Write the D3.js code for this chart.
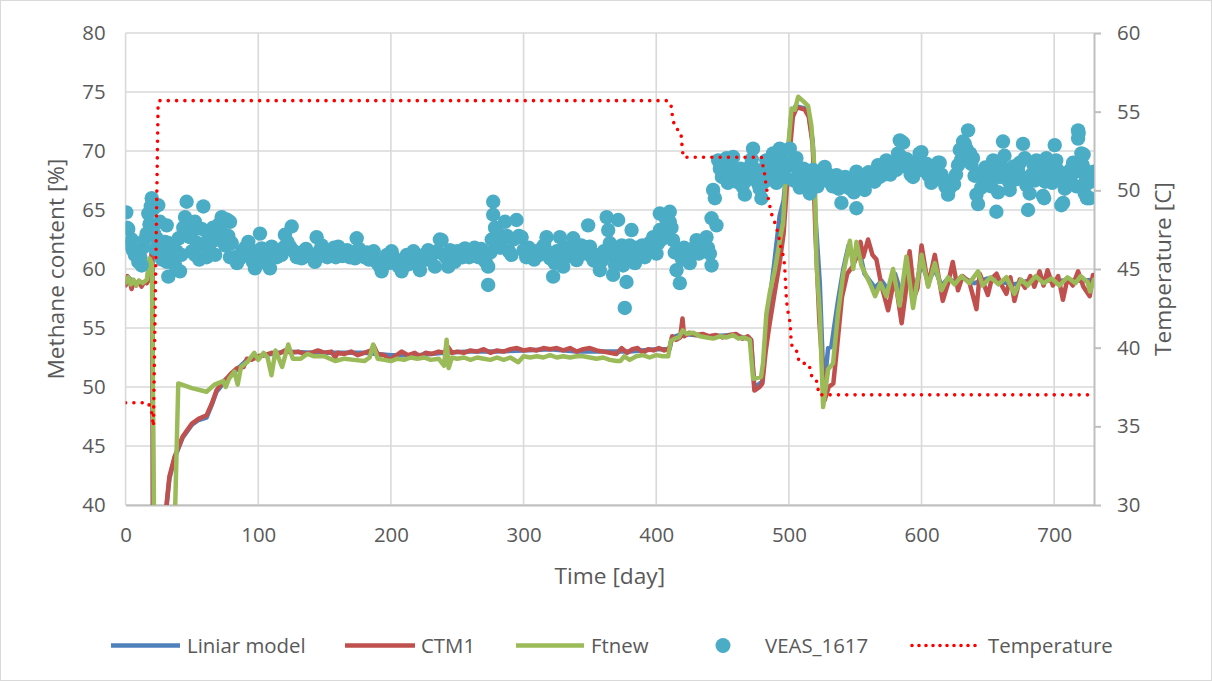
<!DOCTYPE html>
<html>
<head>
<meta charset="utf-8">
<script src="https://cdn.jsdelivr.net/npm/d3@7"></script>
<style>
  body { margin: 0; background: #fff; }
  svg text { font-family: "Open Sans", "Noto Sans", sans-serif; fill: #595959; }
</style>
</head>
<body>
<svg id="chart" width="1212" height="681"></svg>
<script>
// ---- tick values ----
const dayTicks = [0, 100, 200, 300, 400, 500, 600, 700];
const methaneTicks = [40, 45, 50, 55, 60, 65, 70, 75, 80];
const tempTicks = [30, 35, 40, 45, 50, 55, 60];

// ---- model series: [day, methane %] ----
const liniarModel = [
  [0,58.7],[3,59.2],[6,58.8],[10,58.9],[14,58.8],[18,59.1],[20.1,61.8],[20.6,40],[21.5,30],[29,36.3],
  [31,40.0],[33,42.2],[37,44.0],[43,45.7],[50,46.8],[55,47.2],[61,47.4],[65,48.5],[68.5,49.6],[76,50.6],
  [84,51.5],[91.5,52.3],[100,52.6],[120,53.0],[140,52.9],[160,52.9],[180,52.9],[200,52.7],[220,52.7],
  [240,52.9],[260,53.0],[280,53.0],[300,53.1],[320,53.2],[340,53.0],[360,53.0],[380,53.0],[400,53.2],
  [410,53.2],[412,54.2],[420,54.5],[440,54.3],[460,54.4],[471.5,54.0],[474,49.9],[480,50.5],
  [482.5,54.5],[485,57.0],[489,60.5],[493,64.5],[496,65.8],[499,69.5],[502,73.2],[505,73.8],[512,73.6],
  [515,73.0],[518,70.8],[520,64.5],[523.3,58.8],[525.8,51.2],[527.5,51.0],[529.6,53.3],[532,53.4],
  [534,55.0],[537,57.3],[541,60.0],[545,62.0],[549,60.6],[553,61.6],[557,59.6],[561,59.0],[565,58.4],
  [570,59.0],[575,58.2],[580,59.6],[585,57.8],[590,60.3],[595,58.1],[600,60.6],[605,58.9],[610,60.0],
  [615,58.6],[620,59.2],[625,58.9],[630,59.3],[640,58.8],[650,59.2],[660,58.9],[670,58.7],[680,59.0],
  [690,59.2],[700,58.9],[710,59.1],[720,59.0],[730,59.1]
];

const ctm1 = [
  [0,58.6],[1.5,59.4],[3,59.0],[4.5,58.3],[6,58.9],[8,58.6],[10,59.0],[12,58.5],[14,58.9],[16,58.8],
  [18,59.2],[19.5,61.0],[20.1,62.0],[20.6,40.0],[21.5,30.0],[29,36.5],[31,40.2],[33,42.4],[37,44.1],
  [43,45.8],[50,46.9],[55,47.3],[61,47.6],[65,48.6],[68.5,49.7],[72,50.3],[76,50.7],[80,51.2],[84,51.6],
  [89,51.7],[91.5,52.4],[95,52.3],[100,52.6],[105,52.7],[110,52.9],[115,52.8],[120,53.1],[125,52.9],
  [130,53.0],[135,52.8],[140,52.9],[145,53.1],[150,52.9],[155,53.0],[158,52.5],[160,52.9],[165,52.8],
  [170,53.0],[175,52.7],[180,52.9],[185,53.1],[187,53.5],[190,52.8],[195,52.7],[199,52.3],[203,52.6],
  [208,53.0],[213,52.7],[218,52.9],[222,52.6],[226,52.9],[231,52.8],[236,53.0],[240,52.9],[243,53.4],
  [246,52.9],[250,53.0],[255,52.9],[260,53.1],[265,53.0],[270,53.2],[275,52.9],[280,53.1],[285,53.0],
  [290,53.2],[295,53.3],[300,53.1],[305,53.2],[310,53.1],[315,53.3],[320,53.2],[325,53.3],[330,53.1],
  [335,53.3],[340,53.0],[345,53.2],[350,53.3],[355,53.1],[360,53.0],[365,52.9],[370,52.8],[374,53.3],
  [378,52.9],[382,53.2],[386,53.3],[390,52.9],[394,53.2],[398,53.1],[402,53.3],[406,53.1],[410,53.3],
  [412,54.3],[415,54.0],[418,54.2],[419.8,55.8],[421,54.3],[425,54.6],[430,54.4],[435,54.5],[440,54.3],
  [445,54.4],[450,54.2],[455,54.4],[460,54.5],[465,54.1],[469,54.3],[471.5,54.0],[474,49.7],[478,50.0],
  [480,50.3],[482.5,53.0],[485,55.0],[489,57.8],[493,60.5],[496,63.0],[499,67.8],[503,72.9],[506,73.7],
  [512,73.5],[515,72.9],[518,70.5],[520,63.0],[523,55.5],[527,48.9],[530,50.0],[533.5,50.3],[536,53.0],
  [540,57.6],[544,59.6],[548,60.2],[551,61.0],[554,62.3],[556,61.0],[559.7,62.5],[563,61.2],[566,60.8],
  [570,58.5],[574.8,56.5],[579.8,59.35],[585,55.4],[588,58.0],[591,61.5],[594.7,57.7],[597,58.4],
  [600,62.0],[605,58.6],[610,61.2],[616,57.3],[620,58.8],[623.5,60.6],[627.5,58.2],[631,59.4],[636,58.9],
  [641.4,56.6],[643.9,59.6],[647,58.7],[650,57.8],[653,59.2],[656.5,59.6],[660,58.7],[664,57.9],
  [667,59.3],[670,57.3],[674,59.1],[678,58.4],[682,59.4],[685,58.5],[689,59.8],[692,58.6],[695,59.9],
  [699,58.6],[703,59.4],[706.6,57.4],[710,59.2],[714,58.6],[718,59.8],[722,58.5],[726.8,57.7],
  [729.2,59.5],[730,59.2]
];

const ftnew = [
  [0,58.8],[2,59.3],[4,58.7],[6,59.1],[8,58.6],[10,59.0],[13,58.8],[16,59.1],[18,60.9],[19.8,60.5],
  [21,45.0],[22,30.0],[36,30.0],[37.2,39.0],[39.7,50.3],[50,49.9],[61,49.6],[67,50.2],[73.6,50.5],
  [75.5,50.0],[78,50.7],[82,51.3],[84.5,50.2],[87,51.7],[92,52.15],[97,52.9],[100,52.3],[104,52.9],
  [107,52.5],[110,51.0],[113,53.1],[118,51.7],[122.6,53.6],[126,52.4],[132,52.4],[137,52.8],[142,52.6],
  [150,52.6],[158,52.2],[165,52.4],[172,52.3],[180,52.2],[184,52.5],[186.6,53.6],[190,52.4],[195,52.3],
  [200,52.2],[205,52.4],[210,52.3],[215,52.5],[220,52.4],[225,52.5],[230,52.3],[236,52.4],[240,51.8],
  [242,54.0],[243.5,51.6],[246,52.5],[250,52.4],[255,52.5],[260,52.3],[265,52.5],[270,52.4],[275,52.3],
  [280,52.5],[285,52.3],[290,52.5],[296,52.1],[300,52.6],[305,52.5],[310,52.6],[315,52.5],[320,52.7],
  [325,52.5],[330,52.6],[335,52.5],[340,52.6],[345,52.6],[350,52.5],[355,52.4],[360,52.5],[365,52.3],
  [370,52.2],[373,52.2],[376,52.6],[380,52.3],[385,52.6],[390,52.7],[395,52.5],[400,52.7],[405,52.6],
  [409,52.6],[411,53.9],[414,54.1],[417,54.2],[420,54.8],[423,54.5],[428,54.6],[433,54.3],[438,54.2],
  [443,54.1],[448,54.3],[453,54.2],[458,54.4],[462,54.1],[466,54.2],[470.5,54.0],[473,50.7],[479,50.85],
  [480.5,52.0],[483,56.2],[485.6,58.0],[489.4,59.9],[493.1,62.4],[495.6,63.9],[498,68.4],[502,73.6],
  [504.5,73.5],[507,74.6],[511,74.2],[514.5,73.8],[517,72.1],[519.5,68.1],[520.8,60.5],[523.3,56.2],
  [525.8,48.3],[529.6,51.5],[533.3,52.0],[537,56.2],[541,59.6],[546,62.4],[548.5,60.0],[551,62.3],
  [554.7,60.3],[558,59.5],[561,58.8],[565,57.7],[569,58.8],[573.5,57.7],[578.5,60.0],[583.5,56.9],
  [588.6,61.05],[593.6,56.7],[600,61.2],[605,58.5],[610,60.5],[615,58.2],[620,59.3],[625,58.7],
  [630,59.4],[636,58.8],[642.6,59.8],[646,58.6],[652,59.3],[658,58.7],[664,59.3],[670,57.9],[675,59.1],
  [680,58.6],[686,59.4],[692,58.8],[698,59.2],[704,58.6],[710,59.3],[716,58.8],[720,59.4],[725,58.9],
  [727,58.1],[730,59.1]
];

// ---- measured methane content: [day, %] ----
const veas1617 = [
  [0.5,64.8],[1,63.5],[2,63.4],[2.5,62.2],[3.5,62.0],[4.6,62.5],[5.5,61.6],[7,61.2],[8.4,61.3],[9.6,60.6],
  [11,61.0],[12.1,60.3],[13,61.8],[14.5,62.5],[15.9,63.0],[17.1,64.7],[18,63.8],[19,65.3],[19.7,66.0],
  [20.9,65.1],[21.5,63.0],[22.5,61.7],[23.5,62.6],[24.6,65.4],[25.9,64.0],[26.5,62.0],[27.5,60.8],
  [28.5,61.5],[29.7,62.3],[31,63.7],[31,60.6],[32.2,59.35],[32,62.2],[34,61.0],[35.5,62.0],[37.2,60.3],
  [38.5,61.5],[40,62.6],[41,59.8],[42,61.2],[43.5,63.5],[44.8,64.4],[46,65.7],[47,62.8],[48.5,62.7],
  [50,61.5],[51,63.3],[52.3,64.0],[52.3,61.2],[54,62.2],[55.5,60.8],[57.3,63.4],[58.6,65.3],[59.5,62.0],
  [61.1,61.0],[62.5,62.8],[63.5,61.5],[64.9,62.3],[66,63.5],[67.5,61.2],[69,62.5],[70.5,63.8],[72.4,64.4],
  [73.5,63.0],[75,62.0],[76,64.2],[77.4,62.8],[78.7,64.0],[78.7,61.0],[80,62.2],[82,61.0],[84,60.5],
  [86.2,60.9],[88,61.5],[90,61.8],[92.5,62.3],[94,61.2],[96,60.6],[97.5,60.05],[99,61.5],[101.3,63.0],
  [102.6,61.75],[104,61.0],[106,60.5],[108.8,60.05],[110.1,61.9],[112,61.2],[114,61.0],[116,61.5],
  [117.6,61.2],[119,61.8],[120.1,62.9],[122,62.3],[123.9,61.9],[125.2,63.6],[127,61.5],[129,61.0],
  [131,61.3],[132.7,60.9],[134.5,61.5],[136,61.7],[138,61.2],[140,61.0],[142.7,60.6],[144,62.7],
  [146,61.5],[147.8,62.0],[150,61.5],[152,61.0],[153.5,61.3],[155.3,61.2],[157,61.8],[158.5,61.0],
  [160.3,61.9],[162,61.4],[163.5,61.1],[165.3,61.2],[167,61.6],[169,61.0],[171,61.4],[172.9,60.9],
  [174.2,62.6],[176,61.7],[178,61.2],[180,61.0],[182,61.4],[183.5,60.8],[185.5,60.9],[187,61.5],
  [189,60.6],[191,60.3],[193,59.8],[195,60.7],[197,61.2],[198.5,60.5],[200.5,61.5],[202,61.0],[204,60.6],
  [206,60.2],[208.1,59.8],[210,60.8],[212,61.2],[213.5,60.4],[215.6,60.9],[217,61.5],[219,60.5],
  [220.5,60.3],[221.9,59.9],[223.5,60.9],[225,61.2],[226.5,60.8],[228.1,61.6],[230,61.0],[231.5,61.3],
  [233.2,60.2],[235,61.5],[236.9,62.5],[238.2,62.45],[240,61.2],[241.5,61.0],[243.2,60.2],[244.5,61.6],
  [246,61.2],[248,60.6],[250,61.5],[252,61.3],[254,61.0],[255.8,61.75],[257.5,61.4],[259,61.0],[261,61.2],
  [263,61.8],[264.6,61.5],[266,61.0],[268,61.7],[270,61.5],[271.5,60.6],[273.3,60.2],[273.3,58.65],
  [275,61.4],[276,62.5],[277.1,65.7],[277.1,64.6],[278.5,63.5],[279.5,62.3],[280.9,63.0],[282.5,61.8],
  [284,62.5],[286,64.0],[287.5,62.8],[289,61.5],[290.9,61.2],[292.5,62.5],[294.7,64.15],[296.5,62.8],
  [298.5,62.7],[300,61.6],[302,61.0],[304,61.8],[306,61.3],[308,60.8],[310,61.5],[312,61.2],[314,61.8],
  [315.5,62.0],[317.3,62.7],[318.5,61.4],[320,60.9],[322.3,59.35],[323.5,60.5],[325,61.5],[327.4,62.7],
  [328.5,61.6],[329.9,60.2],[331.5,61.0],[333,61.8],[335,61.2],[337.4,62.6],[338.5,61.7],[340,60.75],
  [342,61.4],[343.5,62.0],[345,61.3],[346.5,61.8],[348.7,63.7],[350,61.9],[351.5,61.0],[353,60.7],
  [355,61.2],[357.5,59.9],[359,60.7],[360.5,61.5],[362.6,64.4],[363.8,63.3],[365,62.2],[366,61.2],
  [367.5,59.5],[369,60.3],[370.5,61.3],[371.3,64.15],[372.6,61.3],[374,62.0],[375,60.3],[376.3,56.7],
  [377.6,58.9],[378.5,60.8],[380,62.0],[381.4,63.3],[382.6,61.3],[384,60.5],[386,61.8],[388,61.2],
  [389.5,62.0],[391.4,61.0],[393,61.6],[395,62.2],[396.5,61.8],[397.7,62.7],[399,61.7],[400.2,61.3],
  [401.5,62.2],[402.7,64.7],[402.7,63.3],[404,62.5],[405.5,63.2],[407,64.3],[408.5,64.6],[410.2,64.85],
  [410.2,64.0],[411.5,63.5],[412.7,62.45],[414,61.4],[415.3,59.9],[416.5,61.5],[417.8,58.8],[417.8,61.3],
  [419.5,60.8],[421,61.8],[423,61.2],[425.3,60.5],[427,61.5],[428.5,61.8],[430.4,62.45],[432,61.3],
  [434,61.8],[436,62.4],[437.9,62.7],[439,61.8],[440.4,61.3],[441.7,60.3],[441.7,64.3],[442.9,66.7],
  [444.2,66.0],[445.4,63.7],[446.7,69.2],[448,68.5],[449.5,67.8],[451,68.3],[453,69.4],[454,67.3],
  [455.5,68.0],[457,68.6],[458,69.5],[459,68.3],[460.5,67.4],[462,67.8],[463.5,68.5],[465,67.0],
  [466.8,66.3],[468,67.5],[469.5,68.3],[470.5,68.65],[472,69.3],[473,70.2],[474.3,67.8],[475.5,68.4],
  [477,67.2],[478,66.8],[479.3,66.0],[480.5,67.3],[482,68.5],[483,69.2],[484.3,68.1],[485.5,67.6],
  [487,68.9],[488.1,69.8],[489.5,68.6],[490.6,67.3],[492,68.4],[493.1,70.2],[494.5,69.3],[495.6,69.0],
  [495.6,68.5],[497,67.8],[498.5,69.0],[500.7,70.2],[502,68.8],[503.5,67.5],[505.7,69.4],[507,68.0],
  [508.2,66.9],[509.5,67.8],[511,68.5],[512.5,67.6],[514,68.2],[515.7,66.4],[517,67.2],[518.2,68.4],
  [520,67.6],[521.5,67.0],[523,67.8],[525,68.2],[527,68.65],[528.5,67.5],[530,68.0],[531.5,67.3],
  [533,67.0],[534.5,67.6],[535.9,67.95],[537.5,66.8],[539.6,65.6],[541,67.0],[542.5,67.8],[544,67.3],
  [546,66.8],[547.5,67.6],[549,66.5],[550.9,65.15],[550.9,68.25],[552.5,67.5],[554,67.9],[555.5,67.0],
  [557.2,66.7],[558.5,67.8],[560,68.2],[561.5,67.5],[563,68.0],[564.5,67.4],[566,68.3],[567.2,68.8],
  [568.5,67.8],[570,68.4],[571.5,68.0],[573.5,69.2],[575,68.5],[576.5,68.0],[578,68.6],[579.5,69.0],
  [581,68.4],[582.3,69.8],[583.6,70.9],[584.8,69.5],[586.1,70.7],[586.1,69.25],[587.5,68.8],[589,69.3],
  [590.5,68.5],[591.8,68.0],[593.6,67.8],[595,68.6],[596.5,69.1],[598.6,69.8],[599.9,69.9],[601,68.8],
  [602.5,68.3],[604,68.9],[605.5,67.9],[607.4,67.3],[609,68.1],[610.5,68.6],[612.4,69.0],[613.7,69.0],
  [615,68.0],[616.5,67.5],[618,67.0],[620,66.3],[621.5,66.9],[623,67.5],[624.5,67.2],[626,68.0],
  [627.5,68.8],[628.8,70.1],[630,69.3],[631.3,70.8],[632.6,70.6],[633.8,70.2],[635.1,71.75],[636.5,69.8],
  [637.5,68.9],[638.8,69.4],[640,67.9],[641.4,66.3],[642.6,65.5],[643.9,68.1],[645,66.9],[646.5,67.6],
  [648,68.6],[649.5,67.3],[651,68.3],[652.5,67.0],[654,69.2],[655,68.0],[656.4,64.85],[657.7,66.5],
  [659,67.8],[660,68.8],[661.4,70.8],[662.5,69.6],[664,68.3],[665.2,67.5],[666.5,66.7],[668,67.9],
  [669.5,68.7],[671,67.6],[672.7,68.4],[674,69.0],[675.2,67.8],[676.5,70.6],[677.8,69.4],[679,67.1],
  [680.3,65.0],[681.5,66.4],[683,68.0],[684.5,68.8],[685.5,67.5],[686.6,69.2],[688,68.3],[689.5,67.8],
  [690.5,68.7],[691.6,66.2],[692.4,66.0],[693.2,67.4],[694.1,69.4],[695.5,68.6],[697,68.0],[698.5,67.3],
  [699.5,68.8],[700.4,70.5],[701.5,69.2],[702.5,68.4],[704,67.6],[705.4,65.4],[706.7,65.6],[708,66.8],
  [709.2,67.3],[710.5,68.2],[712,67.6],[713,68.5],[714.2,69.0],[715.5,68.2],[716.8,67.0],[718,71.75],
  [718,71.05],[718.4,71.5],[719.3,68.6],[720.5,69.8],[721.5,68.8],[722.2,69.7],[723,66.4],[724,67.6],
  [724.7,66.0],[725.8,67.3],[726.7,66.0],[727.8,68.0],[729.2,68.1],[729.7,68.25]
];

// ---- digester temperature: [day, °C] ----
const temperature = [
  [0,36.5],[17,36.5],[19.5,36.0],[21,35.0],[24.5,55.5],[25.5,55.7],[409,55.7],[411.5,55.3],[412.2,54.7],
  [414,54.0],[418.6,53.7],[419.1,53.15],[419.6,52.7],[420.4,52.1],[479.3,52.1],[480.6,51.5],[481.8,51.0],
  [482.6,50.45],[483.6,49.9],[485.1,49.2],[486.9,48.5],[488.8,48.1],[491.1,47.5],[492.6,46.95],
  [493.9,46.4],[496.2,45.7],[497,44.9],[497.7,43.8],[498.2,43.0],[498.9,42.5],[499.9,42.0],[500.9,41.6],
  [501.2,41.1],[501.6,40.6],[502.4,40.06],[505.7,39.85],[506.5,39.4],[508.7,39.0],[514.5,39.0],
  [516.3,38.6],[517.5,38.05],[520.8,37.9],[522.8,37.0],[730,37.0]
];

const legendItems = [
  { label: "Liniar model", kind: "line", color: "#4F81BD" },
  { label: "CTM1", kind: "line", color: "#C0504D" },
  { label: "Ftnew", kind: "line", color: "#9BBB59" },
  { label: "VEAS_1617", kind: "dot", color: "#4BACC6" },
  { label: "Temperature", kind: "dotted", color: "#FF0000" }
];

// ---- layout ----
const plot = { left: 125.6, right: 1094, top: 33, bottom: 505 };
const svg = d3.select("#chart");

const x = d3.scaleLinear().domain([0, 730]).range([plot.left, plot.right]);
const yL = d3.scaleLinear().domain([40, 80]).range([plot.bottom, plot.top]);
const yR = d3.scaleLinear().domain([30, 60]).range([plot.bottom, plot.top]);

// outer chart frame
svg.append("rect").attr("x", 0.5).attr("y", 0.5).attr("width", 1211).attr("height", 680)
  .attr("fill", "#fff").attr("stroke", "#d9d9d9").attr("stroke-width", 1);

svg.append("clipPath").attr("id", "plot-clip").append("rect")
  .attr("x", plot.left).attr("y", plot.top)
  .attr("width", plot.right - plot.left).attr("height", plot.bottom - plot.top);

// gridlines
const grid = svg.append("g").attr("stroke", "#d9d9d9").attr("stroke-width", 1.6);
grid.selectAll(".h").data(methaneTicks).join("line")
  .attr("x1", plot.left).attr("x2", plot.right)
  .attr("y1", d => yL(d)).attr("y2", d => yL(d));
grid.selectAll(".v").data(dayTicks).join("line")
  .attr("x1", d => x(d)).attr("x2", d => x(d))
  .attr("y1", plot.top).attr("y2", plot.bottom);

// axes
const fontSize = 20.4;
const styleAxis = g => {
  g.attr("font-family", null).attr("font-size", null);
  g.selectAll("text").style("font-size", fontSize + "px").attr("fill", "#595959");
};

svg.append("g").attr("transform", `translate(${plot.left},0)`)
  .call(d3.axisLeft(yL).tickValues(methaneTicks).tickSize(0).tickPadding(20))
  .call(g => g.select(".domain").remove())
  .call(styleAxis);

svg.append("g").attr("transform", `translate(0,${plot.bottom})`)
  .call(d3.axisBottom(x).tickValues(dayTicks).tickSize(0).tickPadding(23))
  .call(g => g.select(".domain").attr("stroke", "#bfbfbf").attr("stroke-width", 2))
  .call(styleAxis);

svg.append("g").attr("transform", `translate(${plot.right},0)`)
  .call(d3.axisRight(yR).tickValues(tempTicks).tickSize(7).tickSizeOuter(0).tickPadding(16))
  .call(g => g.select(".domain").attr("stroke", "#bfbfbf").attr("stroke-width", 2))
  .call(g => g.selectAll(".tick line").attr("stroke", "#bfbfbf").attr("stroke-width", 2))
  .call(styleAxis);

// axis titles
const titleSize = 22.7;
svg.append("text").attr("x", (plot.left + plot.right) / 2).attr("y", 584)
  .attr("text-anchor", "middle").style("font-size", titleSize + "px").text("Time [day]");
svg.append("text").attr("transform", `translate(64,${(plot.top + plot.bottom) / 2}) rotate(-90)`)
  .attr("text-anchor", "middle").style("font-size", titleSize + "px").text("Methane content [%]");
svg.append("text").attr("transform", `translate(1171,${(plot.top + plot.bottom) / 2}) rotate(-90)`)
  .attr("text-anchor", "middle").style("font-size", titleSize + "px").text("Temperature [C]");

// series
const data = svg.append("g").attr("clip-path", "url(#plot-clip)");
const methaneLine = d3.line().x(d => x(d[0])).y(d => yL(d[1]));
const tempLine = d3.line().x(d => x(d[0])).y(d => yR(d[1]));

[[liniarModel, "#4F81BD"], [ctm1, "#C0504D"], [ftnew, "#9BBB59"]].forEach(([series, color]) => {
  data.append("path").datum(series)
    .attr("d", methaneLine).attr("fill", "none")
    .attr("stroke", color).attr("stroke-width", 4.5)
    .attr("stroke-linejoin", "round").attr("stroke-linecap", "round");
});

data.append("g").selectAll("circle").data(veas1617).join("circle")
  .attr("cx", d => x(d[0])).attr("cy", d => yL(d[1])).attr("r", 7.2)
  .attr("fill", "#4BACC6");

data.append("path").datum(temperature)
  .attr("d", tempLine).attr("fill", "none")
  .attr("stroke", "#FF0000").attr("stroke-width", 3.6)
  .attr("stroke-linecap", "round").attr("stroke-dasharray", "0 8.3");

// legend
const legendY = 645.5;
const legendPos = [
  { sx: 111, ex: 180, tx: 187 },
  { sx: 345, ex: 415, tx: 421 },
  { sx: 516, ex: 584, tx: 591 },
  { sx: 723, ex: 723, tx: 765 },
  { sx: 912, ex: 981, tx: 988 }
];
const legend = svg.append("g");
legendItems.forEach((item, i) => {
  const p = legendPos[i];
  if (item.kind === "line") {
    legend.append("line").attr("x1", p.sx).attr("x2", p.ex).attr("y1", legendY).attr("y2", legendY)
      .attr("stroke", item.color).attr("stroke-width", 4.5);
  } else if (item.kind === "dot") {
    legend.append("circle").attr("cx", p.sx).attr("cy", legendY).attr("r", 7.5).attr("fill", item.color);
  } else {
    legend.append("line").attr("x1", p.sx).attr("x2", p.ex).attr("y1", legendY).attr("y2", legendY)
      .attr("stroke", item.color).attr("stroke-width", 3.6)
      .attr("stroke-linecap", "round").attr("stroke-dasharray", "0 7");
  }
  legend.append("text").attr("x", p.tx).attr("y", legendY).attr("dy", "0.35em")
    .style("font-size", fontSize + "px").text(item.label);
});
</script>
</body>
</html>
